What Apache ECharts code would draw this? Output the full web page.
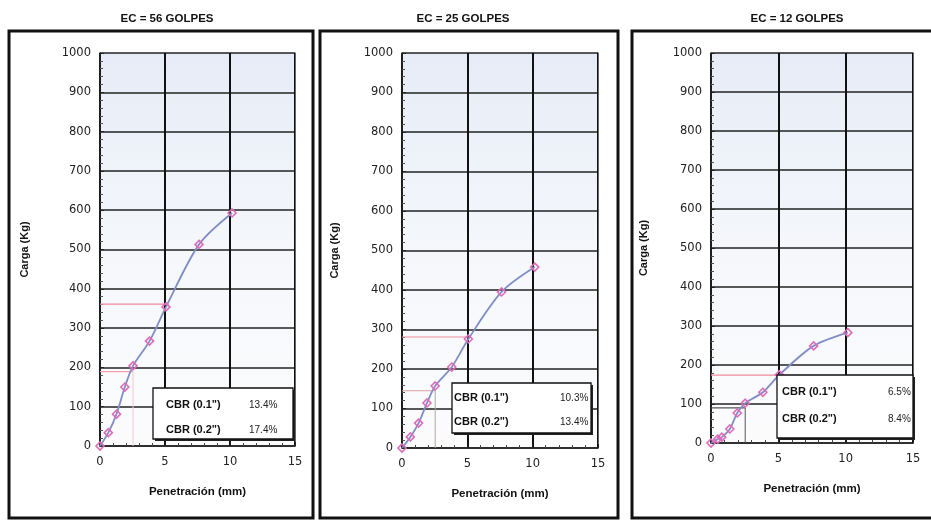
<!DOCTYPE html>
<html>
<head>
<meta charset="utf-8">
<script src="https://cdn.jsdelivr.net/npm/echarts@6/dist/echarts.min.js"></script>
<style>html,body{margin:0;padding:0;background:#fff;}#c{width:931px;height:520px;}</style>
</head>
<body>
<div id="c"></div>
<script>
// ---- data ----
const titles = ['EC = 56 GOLPES', 'EC = 25 GOLPES', 'EC = 12 GOLPES'];
const penetration = [0, 0.64, 1.27, 1.91, 2.54, 3.81, 5.08, 7.62, 10.16];
const penetration12 = [0, 0.5, 0.8, 1.4, 1.95, 2.54, 3.85, 5.08, 7.62, 10.16];
const load56 = [0, 34, 81, 150, 204, 267, 354, 513, 593];
const load25 = [0, 28, 63, 114, 157, 205, 276, 395, 458];
const load12 = [0, 10, 15, 36, 77, 102, 130, 175, 249, 283];
const refPen01 = 2.54, refPen02 = 5.08;
const refLoad01 = [189, 145, 90];
const refLoad02 = [361, 281, 174];
const cbr01 = ['13.4%', '10.3%', '6.5%'];
const cbr02 = ['17.4%', '13.4%', '8.4%'];
const xTicks = [0, 5, 10, 15];
const yMax = 1000;

const xs = [penetration, penetration, penetration12];
const ys = [load56, load25, load12];

// ---- layout ----
const grids = [
  {left: 100, top: 53, width: 195, height: 393},
  {left: 402, top: 53, width: 196, height: 395},
  {left: 711, top: 53, width: 202, height: 390}
];
const nameGapY = [70, 62, 62];
const titleX = [162, 458, 792];
const frames = [[9, 31, 304, 487], [320, 31, 298, 487], [632, 31, 305, 487]];
const boxes = [
  {x: 153, y: 388, w: 140, h: 51, tx: 166, px: 249, l1: 405, l2: 430},
  {x: 452, y: 383, w: 139, h: 50, tx: 454, px: 560, l1: 398, l2: 422},
  {x: 777, y: 375, w: 136, h: 63, tx: 782, px: 888, l1: 392, l2: 419}
];
const ref01Color = ['#f2a0b0', '#d9a0a0', '#555555'];
const ref01VColor = ['#f5c8d0', '#b0a8a0', '#555555'];

const font = 'Liberation Sans, Arial, sans-serif';
const option = {
  animation: false,
  backgroundColor: '#fff',
  title: titles.map((t, i) => ({
    text: t, left: titleX[i], top: 8, textAlign: 'center',
    textStyle: {fontFamily: font, fontSize: 11.5, fontWeight: 'bold', color: '#111'}
  })),
  grid: grids.map(g => Object.assign({
    show: true, borderWidth: 0,
    backgroundColor: {type: 'linear', x: 0, y: 0, x2: 0, y2: 1,
      colorStops: [{offset: 0, color: '#e6ecf7'}, {offset: 0.5, color: '#f5f7fb'}, {offset: 1, color: '#fcfcfd'}]}
  }, g)),
  xAxis: grids.map((g, i) => ({
    gridIndex: i, type: 'value', min: xTicks[0], max: xTicks[xTicks.length - 1], interval: 5,
    name: 'Penetración (mm)', nameLocation: 'middle', nameGap: 40,
    nameTextStyle: {fontFamily: font, fontSize: 11.5, fontWeight: 'bold', color: '#111'},
    axisLine: {show: true, onZero: false, lineStyle: {color: '#222', width: 1.5}},
    axisTick: {show: true, inside: true, length: 4, lineStyle: {color: '#222'}},
    minorTick: {show: true, splitNumber: 5, length: 3, lineStyle: {color: '#444'}},
    axisLabel: {fontFamily: 'DejaVu Sans, sans-serif', fontSize: 11.5, color: '#222', margin: 10},
    splitLine: {show: true, lineStyle: {color: '#111', width: 2}}
  })),
  yAxis: grids.map((g, i) => ({
    gridIndex: i, type: 'value', min: 0, max: yMax, interval: 100,
    name: 'Carga (Kg)', nameLocation: 'middle', nameGap: nameGapY[i], nameRotate: 90,
    nameTextStyle: {fontFamily: font, fontSize: 11, fontWeight: 'bold', color: '#111'},
    axisLine: {show: true, lineStyle: {color: '#222', width: 1.5}},
    axisTick: {show: true, inside: true, length: 4, lineStyle: {color: '#222'}},
    minorTick: {show: true, splitNumber: 5, length: 3, lineStyle: {color: '#555'}},
    axisLabel: {fontFamily: 'DejaVu Sans, sans-serif', fontSize: 11.5, color: '#222', margin: 9,
      formatter: v => String(v)},
    splitLine: {show: true, lineStyle: {color: '#222', width: 1.5}}
  })).concat(grids.map((g, i) => ({
    gridIndex: i, type: 'value', min: 0, max: yMax, position: 'right',
    axisLine: {show: true, lineStyle: {color: '#666', width: 1}},
    axisTick: {show: false}, axisLabel: {show: false}, splitLine: {show: false}
  }))),
  series: []
};

for (let i = 0; i < 3; i++) {
  option.series.push({
    type: 'line', xAxisIndex: i, yAxisIndex: i, symbol: 'none', silent: true, z: 3,
    data: [[0, refLoad02[i]], [refPen02, refLoad02[i]]],
    lineStyle: {color: '#f08a9c', width: 1.2}
  });
  option.series.push({
    type: 'line', xAxisIndex: i, yAxisIndex: i, symbol: 'none', silent: true, z: 3,
    data: [[0, refLoad01[i]], [refPen01, refLoad01[i]]],
    lineStyle: {color: ref01Color[i], width: 1.2}
  });
  option.series.push({
    type: 'line', xAxisIndex: i, yAxisIndex: i, symbol: 'none', silent: true, z: 3,
    data: [[refPen01, refLoad01[i]], [refPen01, 0]],
    lineStyle: {color: ref01VColor[i], width: 1}
  });
  option.series.push({
    type: 'line', xAxisIndex: i, yAxisIndex: i, smooth: 0.3, z: 4,
    data: xs[i].map((x, k) => [x, ys[i][k]]),
    symbol: 'diamond', symbolSize: 8, showSymbol: true,
    lineStyle: {color: '#7f8ec8', width: 1.8},
    itemStyle: {color: 'rgba(255,255,255,0)', borderColor: '#dc6cb8', borderWidth: 1.6}
  });
}

const graphic = [];
frames.forEach(f => {
  graphic.push({type: 'rect', shape: {x: f[0], y: f[1], width: f[2], height: f[3]},
    style: {fill: 'none', stroke: '#111', lineWidth: 3}, z: 10});
});
boxes.forEach((b, i) => {
  graphic.push({type: 'rect', shape: {x: b.x + 2, y: b.y + 2, width: b.w, height: b.h},
    style: {fill: '#222'}, z: 20});
  graphic.push({type: 'rect', shape: {x: b.x, y: b.y, width: b.w, height: b.h},
    style: {fill: '#fff', stroke: '#111', lineWidth: 1.3}, z: 21});
  graphic.push({type: 'text', x: b.tx, y: b.l1, z: 22,
    style: {text: 'CBR (0.1")', fontFamily: font, fontSize: 11, fontWeight: 'bold', fill: '#111', verticalAlign: 'middle'}});
  graphic.push({type: 'text', x: b.tx, y: b.l2, z: 22,
    style: {text: 'CBR (0.2")', fontFamily: font, fontSize: 11, fontWeight: 'bold', fill: '#111', verticalAlign: 'middle'}});
  graphic.push({type: 'text', x: b.px, y: b.l1, z: 22,
    style: {text: cbr01[i], fontFamily: font, fontSize: 10, fill: '#222', verticalAlign: 'middle'}});
  graphic.push({type: 'text', x: b.px, y: b.l2, z: 22,
    style: {text: cbr02[i], fontFamily: font, fontSize: 10, fill: '#222', verticalAlign: 'middle'}});
});
option.graphic = graphic;

const chart = echarts.init(document.getElementById('c'), null, {renderer: 'canvas'});
chart.setOption(option);
</script>
</body>
</html>
